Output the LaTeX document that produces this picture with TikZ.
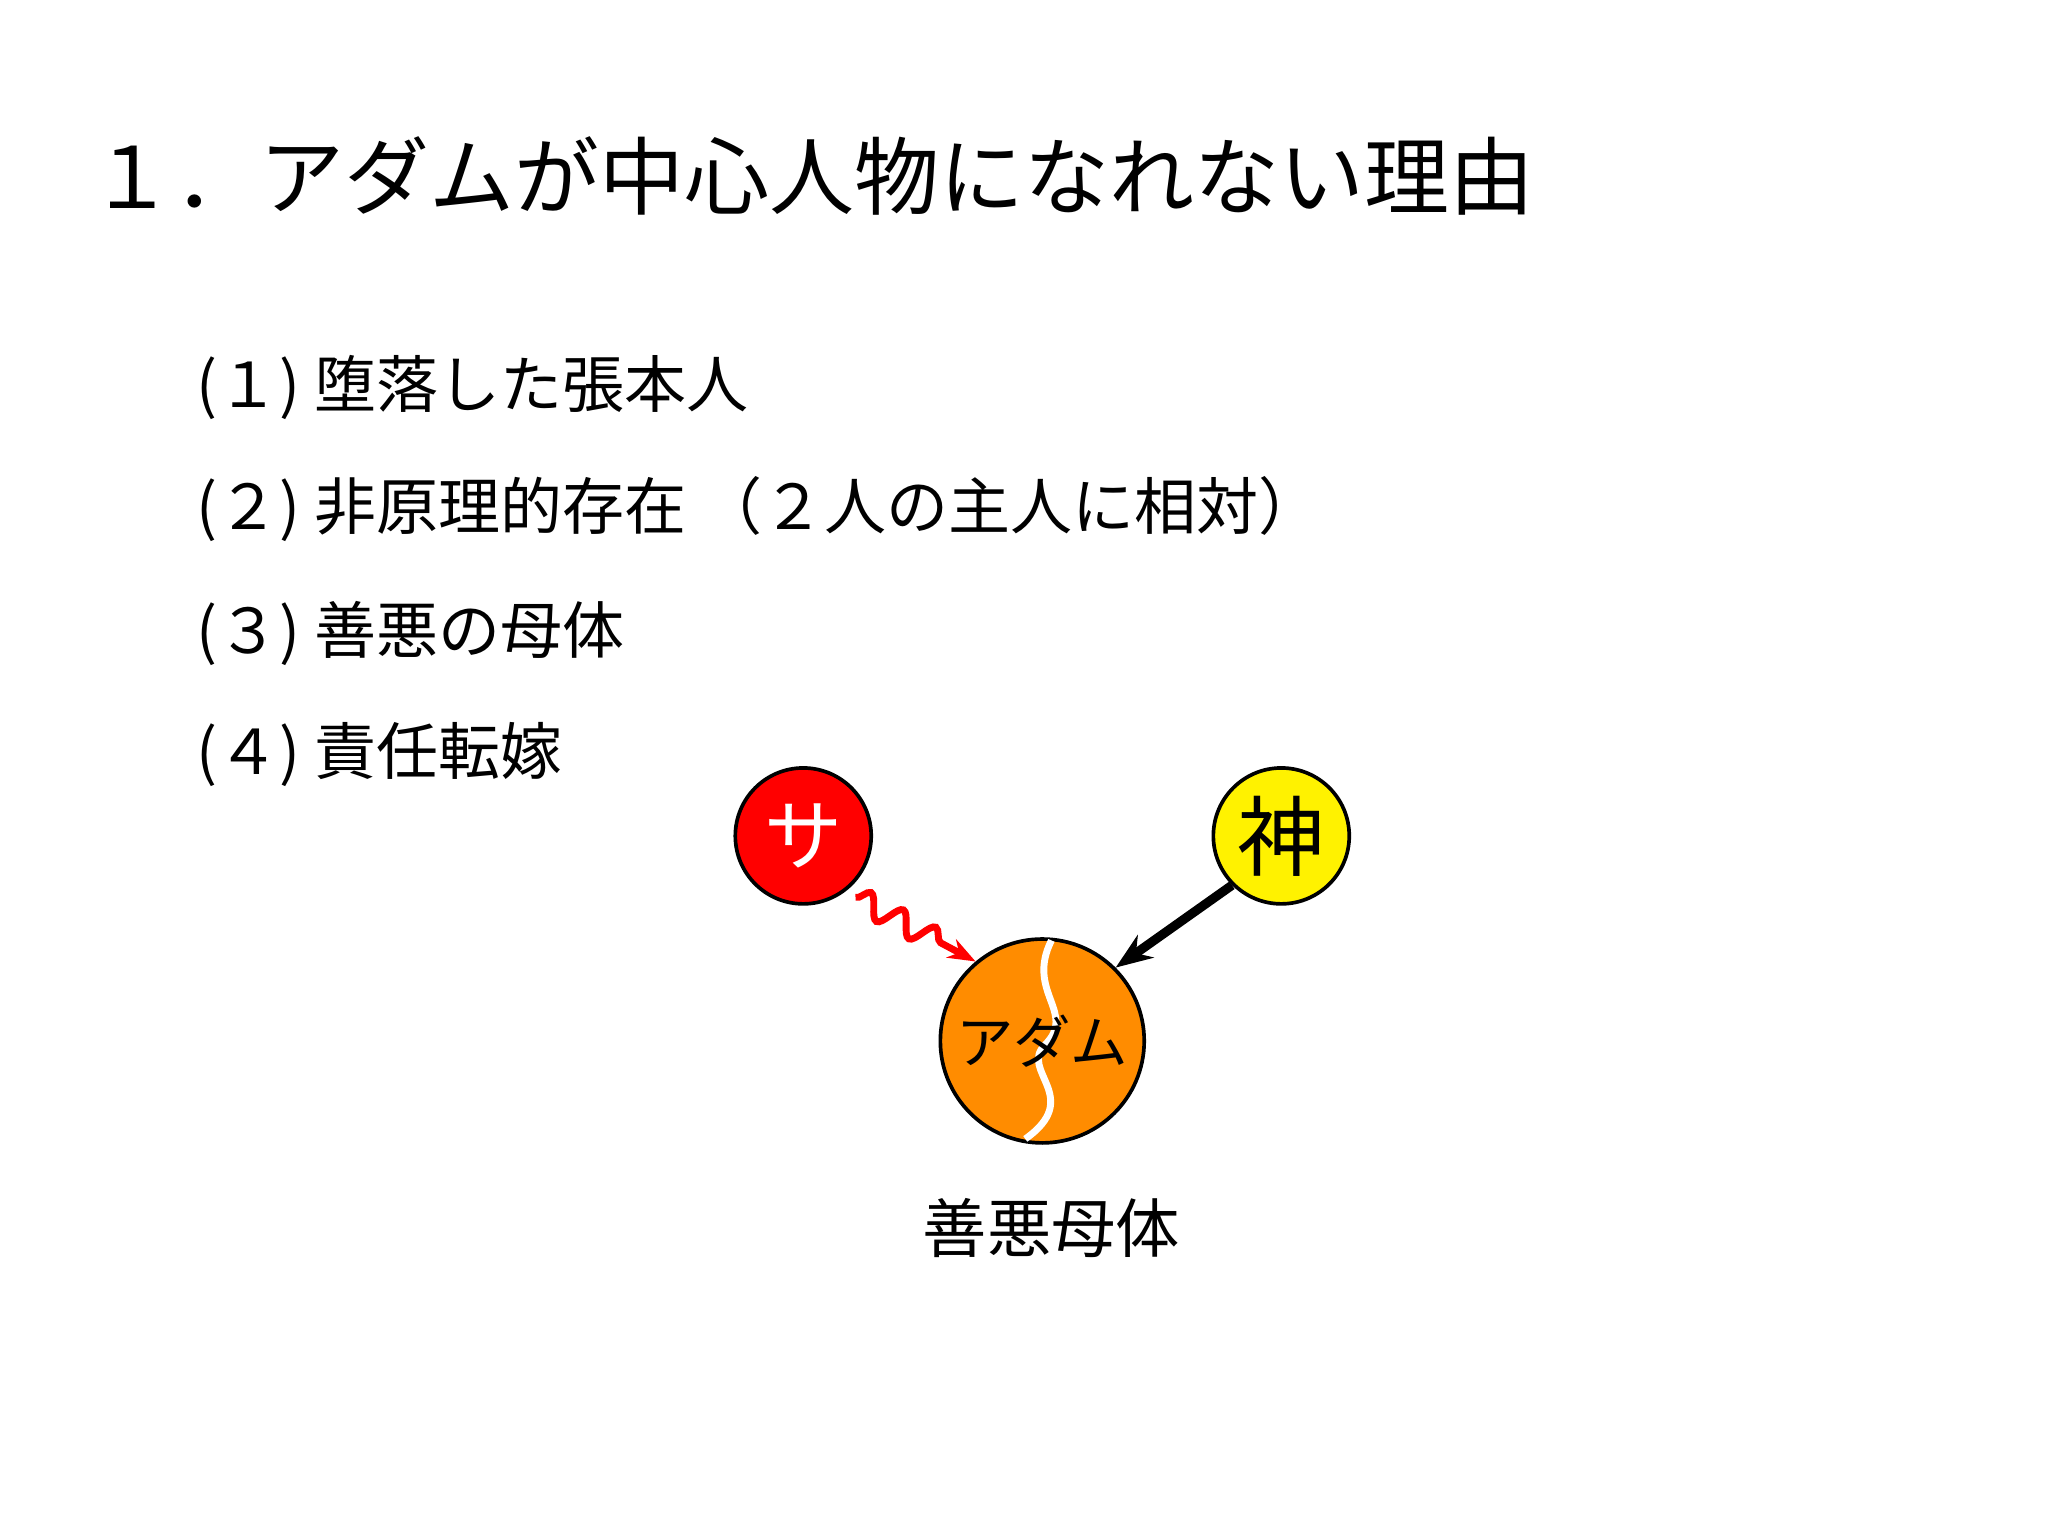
\documentclass[tikz,border=0pt]{standalone}
\usepackage{fontspec}
\setmainfont{Noto Sans CJK JP}
\usetikzlibrary{decorations.pathmorphing,arrows.meta}
\begin{document}
\begin{tikzpicture}[x=0.01cm,y=-0.01cm,
  item/.style={anchor=west,font=\fontsize{13.5pt}{16pt}\selectfont,inner sep=0},
  ball/.style={circle,draw=black,thick,inner sep=0}]
\useasboundingbox (0,0) rectangle (1568,1176);
\node[anchor=west,inner sep=0,font=\fontsize{18.5pt}{22pt}\selectfont] (title) at (68,135) {１．アダムが中心人物になれない理由};
\node[item] (i1) at (150,297) {(１) 堕落した張本人};
\node[item] (i2) at (150,390) {(２) 非原理的存在 （２人の主人に相対）};
\node[item] (i3) at (150,485) {(３) 善悪の母体};
\node[item] (i4) at (150,578) {(４) 責任転嫁};
\node[ball,fill=red,minimum size=1.04cm,text=white,font=\fontsize{17pt}{20pt}\selectfont] (sa) at (615,640) {サ};
\node[ball,fill=yellow,minimum size=1.04cm,font=\fontsize{19pt}{22pt}\selectfont] (kami) at (981,640) {神};
\node[ball,fill=orange!90!yellow,minimum size=1.56cm] (adam) at (798,797) {};
\draw[white,line width=1.5pt] (805,720) .. controls (785,760) and (825,775) .. (800,800) .. controls (780,820) and (830,840) .. (785,872);
\node[font=\fontsize{12.5pt}{15pt}\selectfont] (adamt) at (798,797) {アダム};
\draw[-{Stealth[length=8pt]},line width=2pt] (kami.225) -- (adam.45);
\draw[red,line width=1.5pt,decorate,decoration={snake,amplitude=2.5pt,segment length=8pt,post length=6pt},-{Stealth[length=6pt]}] (655,687) -- (adam.130);
\node[font=\fontsize{14pt}{17pt}\selectfont] (lab) at (805,940) {善悪母体};
\end{tikzpicture}
\end{document}
